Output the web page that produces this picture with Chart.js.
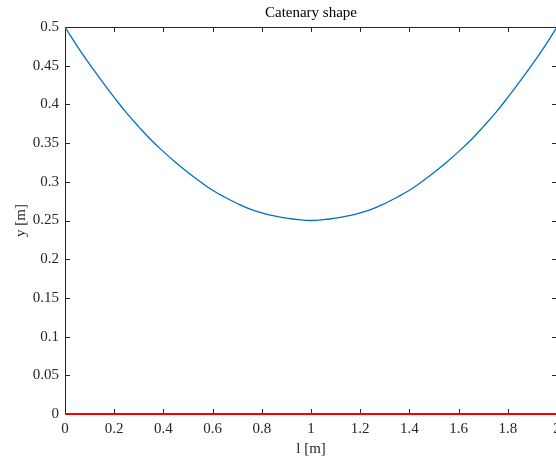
<!DOCTYPE html>
<html>
<head>
<meta charset="utf-8">
<script src="https://cdn.jsdelivr.net/npm/chart.js@4/dist/chart.umd.min.js"></script>
<style>
  html, body { margin: 0; padding: 0; background: #ffffff; }
  #wrap { width: 556px; height: 460px; overflow: hidden; position: relative; }
  #c { display: block; }
</style>
</head>
<body>
<div id="wrap"><canvas id="c" width="570" height="460"></canvas></div>
<script>
// Horizontal position along the span [m]
const lengthM = [0, 0.05, 0.1, 0.15, 0.2, 0.25, 0.3, 0.35, 0.4, 0.45, 0.5,
                 0.55, 0.6, 0.65, 0.7, 0.75, 0.8, 0.85, 0.9, 0.95, 1.0,
                 1.05, 1.1, 1.15, 1.2, 1.25, 1.3, 1.35, 1.4, 1.45, 1.5,
                 1.55, 1.6, 1.65, 1.7, 1.75, 1.8, 1.85, 1.9, 1.95, 2.0];
// Cable height at each position [m]
const cableY = [0.500, 0.475, 0.452, 0.430, 0.409, 0.389, 0.371, 0.354, 0.339, 0.325, 0.312,
                0.300, 0.289, 0.280, 0.272, 0.265, 0.260, 0.256, 0.253, 0.251, 0.250,
                0.251, 0.253, 0.256, 0.260, 0.265, 0.272, 0.280, 0.289, 0.300, 0.312,
                0.325, 0.339, 0.354, 0.371, 0.389, 0.409, 0.430, 0.452, 0.475, 0.500];
// Ground line
const groundX = [0, 2];
const groundY = [0, 0];

const xTicks = [0, 0.2, 0.4, 0.6, 0.8, 1, 1.2, 1.4, 1.6, 1.8, 2];
const xTickLabels = ['0', '0.2', '0.4', '0.6', '0.8', '1', '1.2', '1.4', '1.6', '1.8', '2'];
const yTicks = [0, 0.05, 0.1, 0.15, 0.2, 0.25, 0.3, 0.35, 0.4, 0.45, 0.5];
const yTickLabels = ['0', '0.05', '0.1', '0.15', '0.2', '0.25', '0.3', '0.35', '0.4', '0.45', '0.5'];

const FONT = "'Liberation Serif', 'DejaVu Serif', serif";
const AXIS_COLOR = '#262626';

// Box frame plus inward-pointing tick marks on all four sides
const innerTicks = {
  id: 'innerTicks',
  beforeDatasetsDraw(chart) {
    const { ctx, chartArea: a, scales } = chart;
    const len = 5;
    ctx.save();
    ctx.strokeStyle = AXIS_COLOR;
    ctx.lineWidth = 1;
    ctx.beginPath();
    ctx.rect(a.left + 0.5, a.top + 0.5, a.right - a.left, a.bottom - a.top);
    xTicks.forEach(v => {
      const px = Math.round(scales.x.getPixelForValue(v)) + 0.5;
      ctx.moveTo(px, a.bottom); ctx.lineTo(px, a.bottom - len);
      ctx.moveTo(px, a.top); ctx.lineTo(px, a.top + len);
    });
    yTicks.forEach(v => {
      const py = Math.round(scales.y.getPixelForValue(v)) + 0.5;
      ctx.moveTo(a.left, py); ctx.lineTo(a.left + len, py);
      ctx.moveTo(a.right, py); ctx.lineTo(a.right - len, py);
    });
    ctx.stroke();
    ctx.restore();
  }
};

new Chart(document.getElementById('c'), {
  type: 'scatter',
  data: {
    datasets: [
      {
        data: lengthM.map((x, i) => ({ x, y: cableY[i] })),
        showLine: true,
        borderColor: '#0072BD',
        borderWidth: 1.3,
        pointRadius: 0,
        tension: 0.4,
        clip: 2
      },
      {
        data: groundX.map((x, i) => ({ x, y: groundY[i] })),
        showLine: true,
        borderColor: '#FF0000',
        borderWidth: 2,
        pointRadius: 0,
        clip: 4
      }
    ]
  },
  options: {
    responsive: false,
    animation: false,
    layout: { padding: { left: 0, right: 13, top: 0, bottom: 0 } },
    plugins: {
      legend: { display: false },
      tooltip: { enabled: false },
      title: {
        display: true,
        text: 'Catenary shape',
        fullSize: false,
        color: '#000000',
        font: { family: FONT, size: 15, weight: 'normal' },
        padding: { top: 4, bottom: 5 }
      }
    },
    scales: {
      x: {
        type: 'linear',
        min: 0, max: 2,
        afterBuildTicks: s => { s.ticks = xTicks.map(v => ({ value: v })); },
        afterFit: s => { s.height = 46; },
        ticks: {
          color: AXIS_COLOR,
          font: { family: FONT, size: 15 },
          padding: 6,
          maxRotation: 0,
          callback: (v, i) => xTickLabels[i]
        },
        grid: { display: true, drawOnChartArea: false, drawTicks: false },
        border: { display: false },
        title: {
          display: true,
          text: 'l [m]',
          color: AXIS_COLOR,
          font: { family: FONT, size: 15 },
          padding: { top: 2, bottom: 2 }
        }
      },
      y: {
        type: 'linear',
        min: 0, max: 0.5,
        afterBuildTicks: s => { s.ticks = yTicks.map(v => ({ value: v })); },
        afterFit: s => { s.width = 65; },
        ticks: {
          color: AXIS_COLOR,
          font: { family: FONT, size: 15 },
          padding: 6,
          callback: (v, i) => yTickLabels[i]
        },
        grid: { display: true, drawOnChartArea: false, drawTicks: false },
        border: { display: false },
        title: {
          display: true,
          text: 'y [m]',
          color: AXIS_COLOR,
          font: { family: FONT, size: 15 },
          padding: { top: 12, bottom: 0 }
        }
      }
    }
  },
  plugins: [innerTicks]
});
</script>
</body>
</html>
